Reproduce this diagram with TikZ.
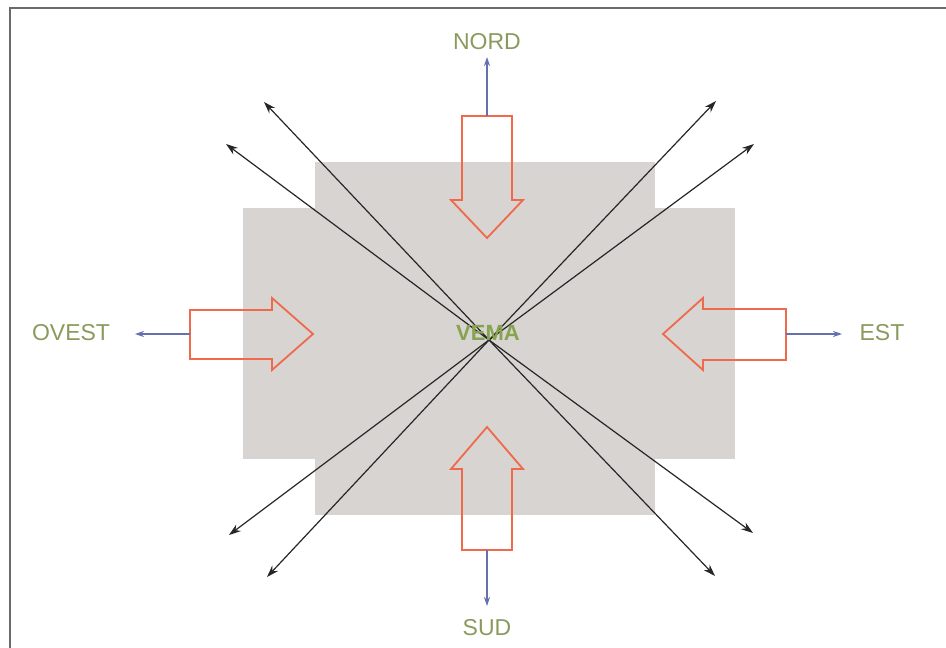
\documentclass[tikz,border=0pt]{standalone}
\usepackage{fontspec}
\setmainfont{Liberation Sans}
\usetikzlibrary{arrows.meta}
\definecolor{zone}{HTML}{D8D4D1}
\definecolor{flow}{HTML}{F0694A}
\definecolor{lbl}{HTML}{8A9A5E}
\definecolor{core}{HTML}{85A350}
\definecolor{dir}{HTML}{6470B0}
\definecolor{frame}{HTML}{6A6A6A}
\tikzset{
  label text/.style={text=lbl, font=\fontsize{23}{23}\selectfont, inner sep=1pt},
  ray/.style={line width=1.2pt, draw=black!85, -{Stealth[length=12pt,width=8pt]}},
  pointer/.style={line width=1.2pt, draw=dir, -{Stealth[length=9pt,width=6pt]}},
  blockarrow/.style={draw=flow, line width=1.8pt, line join=miter},
}
\begin{document}
\begin{tikzpicture}[x=1pt,y=-1pt]
\useasboundingbox (0,0) rectangle (946,648);
% frame on the top and left sides
\draw[frame, line width=2pt] (10,648) -- (10,8) -- (946,8);

% the built-up area: two overlapping grey blocks
\fill[zone] (243,208) rectangle (735,459);
\fill[zone] (315,162) rectangle (655,515);

% centre point and radiating rays
\coordinate (c) at (489,340);
\coordinate (r1) at (264,102);
\coordinate (r2) at (226,144);
\coordinate (r3) at (716,101);
\coordinate (r4) at (754,144);
\coordinate (r5) at (229,535);
\coordinate (r6) at (267,577);
\coordinate (r7) at (753,533);
\coordinate (r8) at (715,576);
\foreach \r in {r1,r2,r3,r4,r5,r6,r7,r8}
  \draw[ray] (c) -- (\r);

% block arrows pointing inwards
\draw[blockarrow] (462,116) -- (512,116) -- (512,200) -- (523,200) -- (487,238)
  -- (451,200) -- (462,200) -- cycle;
\coordinate (nback) at (487,116);
\draw[blockarrow] (462,550) -- (512,550) -- (512,469) -- (523,469) -- (487,427)
  -- (451,469) -- (462,469) -- cycle;
\coordinate (sback) at (487,550);
\draw[blockarrow] (190,310) -- (190,359) -- (272,359) -- (272,370) -- (313,334)
  -- (272,298) -- (272,310) -- cycle;
\coordinate (wback) at (190,334);
\draw[blockarrow] (786,309) -- (786,360) -- (703,360) -- (703,370) -- (663,334)
  -- (703,298) -- (703,309) -- cycle;
\coordinate (eback) at (786,334);

% labels
\node[label text] (nord) at (487,42) {NORD};
\node[label text] (sud) at (487,628) {SUD};
\node[label text] (ovest) at (71,333) {OVEST};
\node[label text] (est) at (882,333) {EST};
\node[text=core, font=\fontsize{22}{22}\selectfont\bfseries, inner sep=0pt] (vema) at (488,333) {VEMA};

% direction pointers
\coordinate (ntip) at (487,57);
\coordinate (stip) at (487,606);
\coordinate (wtip) at (135,334);
\coordinate (etip) at (842,334);
\draw[pointer] (nback) -- (ntip);
\draw[pointer] (sback) -- (stip);
\draw[pointer] (wback) -- (wtip);
\draw[pointer] (eback) -- (etip);
\end{tikzpicture}
\end{document}
